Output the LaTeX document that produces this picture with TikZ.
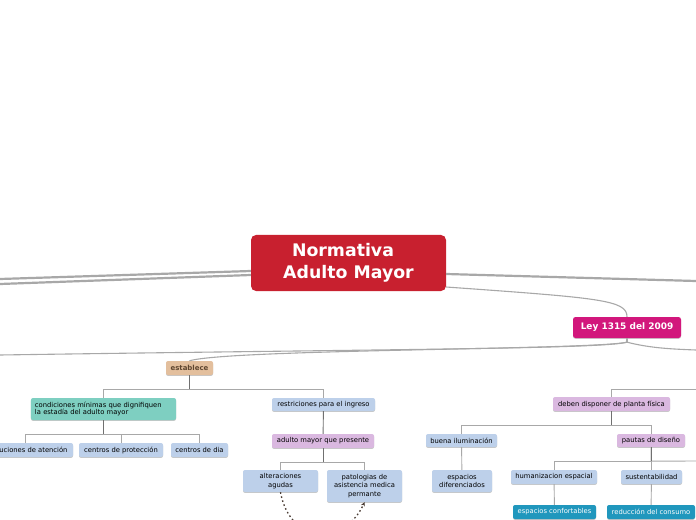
\documentclass[tikz,border=0pt]{standalone}
\usepackage{fontspec}
\setmainfont{DejaVu Sans}
\usetikzlibrary{arrows.meta,positioning,calc,shadows}
\definecolor{adred}{HTML}{C8202F}
\definecolor{adpink}{HTML}{D2177C}
\definecolor{adtan}{HTML}{E3BF9D}
\definecolor{adbrown}{HTML}{5E4630}
\definecolor{adteal}{HTML}{7ECFC1}
\definecolor{adblue}{HTML}{BDD0EA}
\definecolor{adlilac}{HTML}{DAB8E0}
\definecolor{adsea}{HTML}{2097BD}
\definecolor{adline}{HTML}{A8A8A8}
\definecolor{adstem}{HTML}{707070}
\definecolor{addot}{HTML}{4A3C34}
\tikzset{
  bx/.style={rounded corners=2bp, align=center, font=\fontsize{6.8}{8.6}\selectfont, minimum height=14bp, inner sep=0pt, general shadow={fill=black!22, shadow xshift=0bp, shadow yshift=-0.9bp}},
  bluebx/.style={bx, fill=adblue},
  lilacbx/.style={bx, fill=adlilac},
  seabx/.style={bx, fill=adsea, text=white},
  tealbx/.style={bx, fill=adteal, align=left, font=\fontsize{6.8}{7.6}\selectfont},
  tanbx/.style={bx, fill=adtan, text=adbrown, font=\bfseries\fontsize{7}{8}\selectfont},
  topbx/.style={rounded corners=2.5bp, fill=adpink, text=white, inner sep=0pt, font=\bfseries\fontsize{9}{10}\selectfont, general shadow={fill=black!20, shadow xshift=0bp, shadow yshift=-0.9bp}},
  rootbx/.style={rounded corners=5bp, fill=adred, text=white, inner sep=0pt, align=center, font=\bfseries\fontsize{17.4}{22.4}\selectfont},
  thk/.style={line width=2.2bp, color=adline},
  lnk/.style={line width=1.1bp, color=adline},
  tree/.style={line width=0.9bp, color=adline},
  stem/.style={line width=0.9bp, color=adstem},
  rel/.style={-{Stealth[length=4bp,width=4bp]}, line width=1.3bp, color=addot, dash pattern=on 1.6bp off 2.6bp},
}
\begin{document}
\begin{tikzpicture}[x=1bp, y=-1bp]
    \useasboundingbox (0,0) rectangle (696,520);
    \clip (0,0) rectangle (696,520);
    \coordinate (offA) at (0,279);
    \coordinate (offB) at (0,284);
    \coordinate (offC) at (696,281);
    \coordinate (offD) at (0,355);
    \coordinate (offE) at (696,350);
    \coordinate (offF) at (696,389);
    \coordinate (offG) at (696,461);
    \node[rootbx, minimum width=195bp, minimum height=56bp] (root) at (348.5,263) {Normativa\hspace*{11bp}\\Adulto Mayor};
    \node[topbx, minimum width=108bp, minimum height=21bp] (ley) at (627,327.5) {Ley 1315 del 2009};
    \node[tanbx, minimum width=47bp] (est) at (189.5,368) {establece};
    \node[tealbx, minimum width=145bp, minimum height=22bp, text width=137bp] (cond) at (103.5,409) {condiciones mínimas que dignifiquen\\la estadía del adulto mayor};
    \node[bluebx, minimum width=96bp] (inst) at (25,450) {instituciones de atención};
    \node[bluebx, minimum width=84bp] (prot) at (121,450) {centros de protección};
    \node[bluebx, minimum width=57bp] (dia) at (199.5,450) {centros de dia};
    \node[bluebx, minimum width=103bp, minimum height=13bp] (restr) at (323.5,404.5) {restriciones para el ingreso};
    \node[lilacbx, minimum width=102bp] (adul) at (323,441) {adulto mayor que presente};
    \node[bluebx, minimum width=75bp, minimum height=22bp] (alt) at (280.5,481) {alteraciones\\agudas};
    \node[bluebx, minimum width=75bp, minimum height=32bp] (pat) at (364.5,486) {patologias de\\asistencia medica\\permante};
    \node[lilacbx, minimum width=117bp] (plan) at (611.5,404) {deben disponer de planta física};
    \node[bluebx, minimum width=71bp, minimum height=13bp] (luz) at (461.5,440.5) {buena iluminación};
    \node[lilacbx, minimum width=68bp, minimum height=13bp] (paut) at (651,440.5) {pautas de diseño};
    \node[bluebx, minimum width=60bp, minimum height=22bp] (dif) at (462,481) {espacios\\diferenciados};
    \node[bluebx, minimum width=86bp] (hum) at (554,477) {humanizacion espacial};
    \node[bluebx, minimum width=61bp] (sust) at (651.5,477) {sustentabilidad};
    \node[seabx, minimum width=83bp] (conf) at (554.5,512) {espacios confortables};
    \node[seabx, minimum width=88bp] (cons) at (651,512) {reducción del consumo};
    \draw[thk] ($(root.west)+(0,8)$) -- (offA);
    \draw[thk] ($(root.west)+(0,12)$) -- (offB);
    \draw[thk] ($(root.east)+(0,11)$) -- (offC);
    \draw[lnk] ($(root.east)+(0,24)$) .. controls (600,298) and (627,300) .. (ley.north);
    \draw[lnk] (ley.south) -- ++(0,4) .. controls (600,349) and (400,349) .. (offD);
    \draw[lnk] (ley.south) -- ++(0,4) .. controls (590,350) and (230,349) .. (est.north);
    \draw[lnk] (ley.south) -- ++(0,4) .. controls (650,348) and (670,349) .. (offE);
    \foreach \c in {cond,restr} \draw[tree] (est.south) -- ++(0,14) -| (\c.north);
    \foreach \c in {inst,prot,dia} \draw[tree] (cond.south) -- ++(0,14) -| (\c.north);
    \foreach \c in {alt,pat} \draw[tree] (adul.south) -- ++(0,14) -| (\c.north);
    \foreach \c in {luz,paut} \draw[tree] (plan.south) -- ++(0,14) -| (\c.north);
    \foreach \c in {hum,sust} \draw[tree] (paut.south) -- ++(0,14) -| (\c.north);
    \draw[tree] (paut.south) -- ++(0,14) -- (offG);
    \draw[tree] (plan.north) |- (offF);
    \foreach \p in {est,cond,adul,plan,paut} \draw[stem] (\p.south) -- ++(0,14);
    \draw[stem] (restr) -- (adul);
    \draw[tree] (luz) -- (dif);
    \draw[tree] (hum) -- (conf);
    \draw[tree] (sust) -- (cons);
    \draw[rel] (alt.south) .. controls (290,545) and (345,545) .. (pat.south);
  \end{tikzpicture}
\end{document}
